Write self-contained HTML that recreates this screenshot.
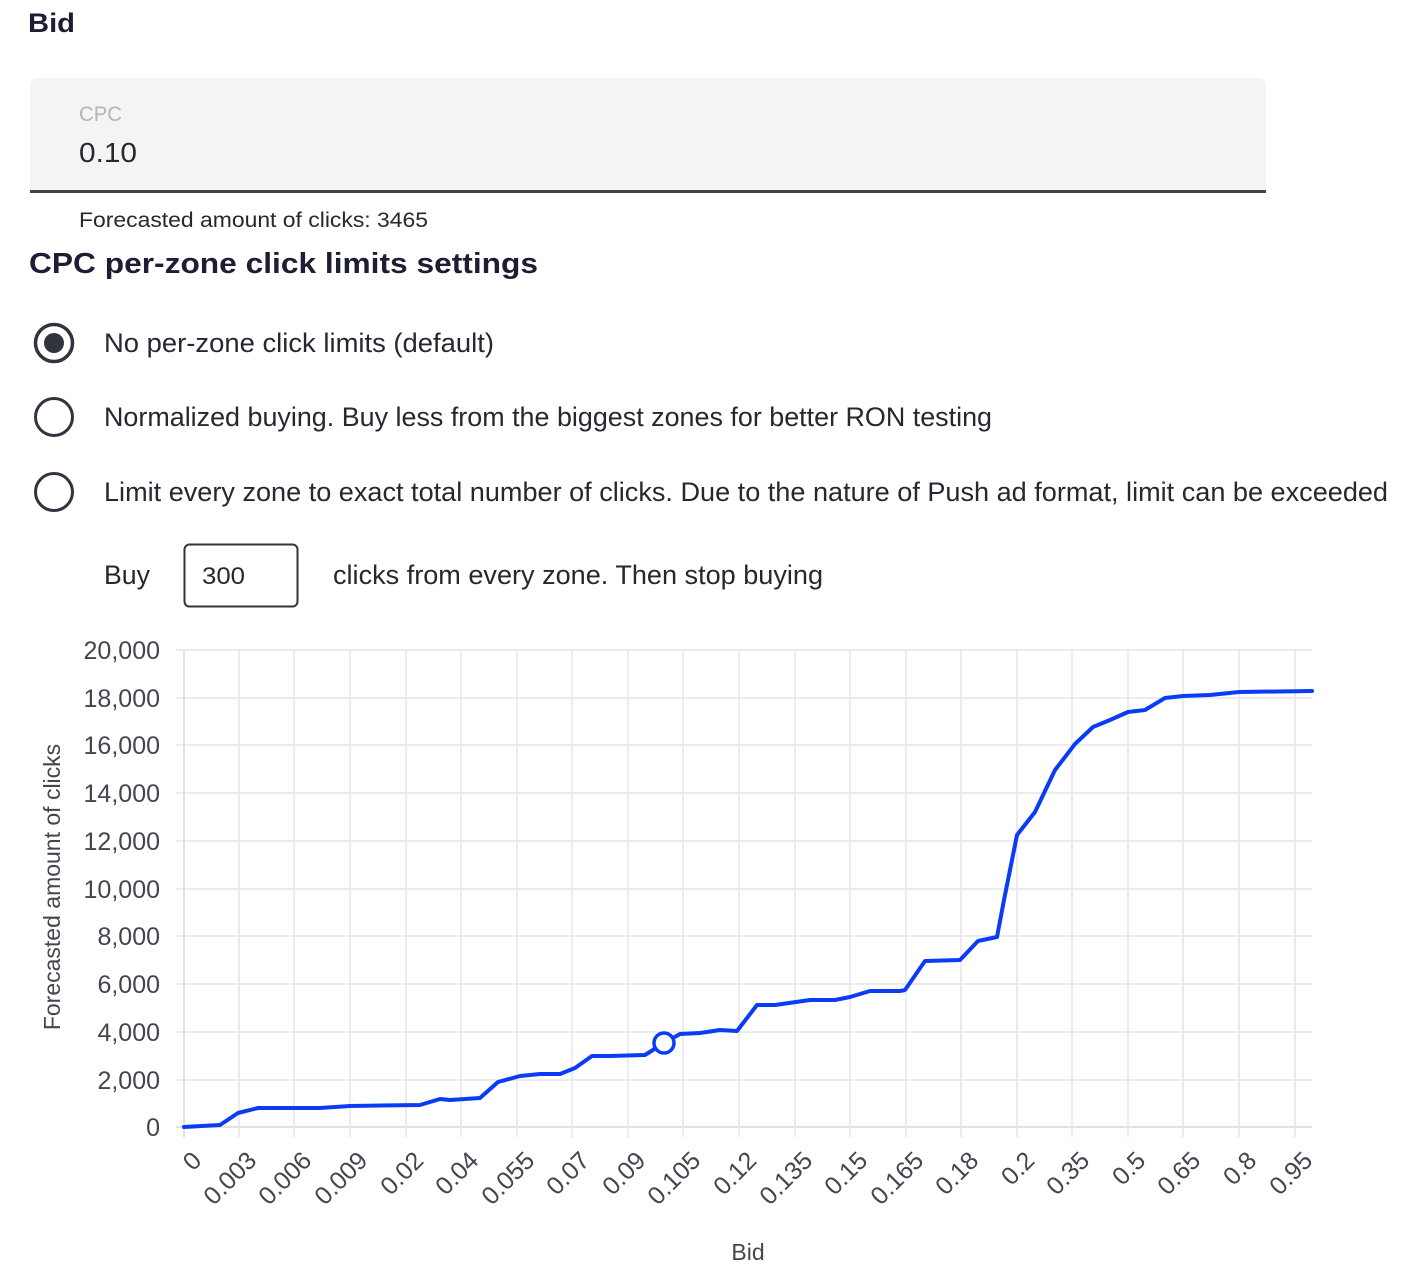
<!DOCTYPE html>
<html><head><meta charset="utf-8"><style>
html,body{margin:0;padding:0;background:#fff;}
svg{display:block;font-family:"Liberation Sans",sans-serif;}
</style></head><body>
<svg width="1420" height="1276" viewBox="0 0 1420 1276" xmlns="http://www.w3.org/2000/svg">
<text x="28" y="32" font-size="27" font-weight="bold" fill="#1d1e33" textLength="47" lengthAdjust="spacingAndGlyphs">Bid</text>
<path d="M38 78 H1258 Q1266 78 1266 86 V192 H30 V86 Q30 78 38 78 Z" fill="#f4f4f5"/>
<rect x="30" y="190" width="1236" height="3" fill="#41434f"/>
<text x="79" y="121" font-size="21" fill="#b4b5ba" textLength="43" lengthAdjust="spacingAndGlyphs">CPC</text>
<text x="79" y="162" font-size="28" fill="#262730" textLength="58" lengthAdjust="spacingAndGlyphs">0.10</text>
<text x="79" y="227" font-size="21" fill="#262730" textLength="349" lengthAdjust="spacingAndGlyphs">Forecasted amount of clicks: 3465</text>
<text x="29" y="273" font-size="29" font-weight="bold" fill="#1d1e33" textLength="509" lengthAdjust="spacingAndGlyphs">CPC per-zone click limits settings</text>
<circle cx="54" cy="343" r="18.5" fill="none" stroke="#31333f" stroke-width="3.5"/>
<circle cx="54" cy="343" r="10" fill="#31333f"/>
<circle cx="54" cy="417" r="18.5" fill="none" stroke="#31333f" stroke-width="3"/>
<circle cx="54" cy="492" r="18.5" fill="none" stroke="#31333f" stroke-width="3"/>
<g font-size="27" fill="#262730">
<text x="104" y="352" textLength="390" lengthAdjust="spacingAndGlyphs">No per-zone click limits (default)</text>
<text x="104" y="426" textLength="888" lengthAdjust="spacingAndGlyphs">Normalized buying. Buy less from the biggest zones for better RON testing</text>
<text x="104" y="501" textLength="1284" lengthAdjust="spacingAndGlyphs">Limit every zone to exact total number of clicks. Due to the nature of Push ad format, limit can be exceeded</text>
<text x="104" y="584" textLength="46" lengthAdjust="spacingAndGlyphs">Buy</text>
<text x="333" y="584" textLength="490" lengthAdjust="spacingAndGlyphs">clicks from every zone. Then stop buying</text>
</g>
<rect x="184.5" y="544.5" width="113" height="62" rx="5" fill="#fff" stroke="#31333f" stroke-width="2"/>
<text x="202" y="584" font-size="24" fill="#262730" textLength="43" lengthAdjust="spacingAndGlyphs">300</text>

<g stroke="#e6e6e9" stroke-width="1.5">
<line x1="176" y1="650" x2="1312" y2="650"/>
<line x1="176" y1="698" x2="1312" y2="698"/>
<line x1="176" y1="745" x2="1312" y2="745"/>
<line x1="176" y1="793" x2="1312" y2="793"/>
<line x1="176" y1="841" x2="1312" y2="841"/>
<line x1="176" y1="889" x2="1312" y2="889"/>
<line x1="176" y1="936" x2="1312" y2="936"/>
<line x1="176" y1="984" x2="1312" y2="984"/>
<line x1="176" y1="1032" x2="1312" y2="1032"/>
<line x1="176" y1="1080" x2="1312" y2="1080"/>
<line x1="176" y1="1127" x2="1312" y2="1127" stroke="#d8d8dc"/>
</g>
<g stroke="#e6e6e9" stroke-width="1.5">
<line x1="184" y1="650" x2="184" y2="1137" stroke="#d8d8dc"/>
<line x1="239" y1="650" x2="239" y2="1137"/><line x1="294" y1="650" x2="294" y2="1137"/>
<line x1="350" y1="650" x2="350" y2="1137"/><line x1="406" y1="650" x2="406" y2="1137"/>
<line x1="461" y1="650" x2="461" y2="1137"/><line x1="517" y1="650" x2="517" y2="1137"/>
<line x1="572" y1="650" x2="572" y2="1137"/><line x1="628" y1="650" x2="628" y2="1137"/>
<line x1="683" y1="650" x2="683" y2="1137"/><line x1="739" y1="650" x2="739" y2="1137"/>
<line x1="795" y1="650" x2="795" y2="1137"/><line x1="850" y1="650" x2="850" y2="1137"/>
<line x1="906" y1="650" x2="906" y2="1137"/><line x1="961" y1="650" x2="961" y2="1137"/>
<line x1="1017" y1="650" x2="1017" y2="1137"/><line x1="1072" y1="650" x2="1072" y2="1137"/>
<line x1="1128" y1="650" x2="1128" y2="1137"/><line x1="1183" y1="650" x2="1183" y2="1137"/>
<line x1="1239" y1="650" x2="1239" y2="1137"/><line x1="1295" y1="650" x2="1295" y2="1137"/>
</g>
<g font-size="25" fill="#44454f" text-anchor="end">
<text x="160" y="659">20,000</text><text x="160" y="707">18,000</text><text x="160" y="754">16,000</text>
<text x="160" y="802">14,000</text><text x="160" y="850">12,000</text><text x="160" y="898">10,000</text>
<text x="160" y="945">8,000</text><text x="160" y="993">6,000</text><text x="160" y="1041">4,000</text>
<text x="160" y="1089">2,000</text><text x="160" y="1136">0</text>
</g>
<text transform="translate(60,887) rotate(-90)" font-size="23" fill="#44454f" text-anchor="middle">Forecasted amount of clicks</text>
<g font-size="25" fill="#44454f" text-anchor="end">
<text transform="translate(203,1162) rotate(-45)">0</text>
<text transform="translate(258,1162) rotate(-45)">0.003</text>
<text transform="translate(313,1162) rotate(-45)">0.006</text>
<text transform="translate(369,1162) rotate(-45)">0.009</text>
<text transform="translate(425,1162) rotate(-45)">0.02</text>
<text transform="translate(480,1162) rotate(-45)">0.04</text>
<text transform="translate(536,1162) rotate(-45)">0.055</text>
<text transform="translate(591,1162) rotate(-45)">0.07</text>
<text transform="translate(647,1162) rotate(-45)">0.09</text>
<text transform="translate(702,1162) rotate(-45)">0.105</text>
<text transform="translate(758,1162) rotate(-45)">0.12</text>
<text transform="translate(814,1162) rotate(-45)">0.135</text>
<text transform="translate(869,1162) rotate(-45)">0.15</text>
<text transform="translate(925,1162) rotate(-45)">0.165</text>
<text transform="translate(980,1162) rotate(-45)">0.18</text>
<text transform="translate(1036,1162) rotate(-45)">0.2</text>
<text transform="translate(1091,1162) rotate(-45)">0.35</text>
<text transform="translate(1147,1162) rotate(-45)">0.5</text>
<text transform="translate(1202,1162) rotate(-45)">0.65</text>
<text transform="translate(1258,1162) rotate(-45)">0.8</text>
<text transform="translate(1314,1162) rotate(-45)">0.95</text>
</g>
<text x="748" y="1260" font-size="23" fill="#44454f" text-anchor="middle">Bid</text>
<polyline fill="none" stroke="#0a3cf5" stroke-width="4" stroke-linejoin="round" stroke-linecap="round"
points="184,1127 220,1125 238,1113 258,1108 320,1108 350,1106 420,1105 440,1099 450,1100 480,1098 498,1082 520,1076 540,1074 560,1074 575,1068 592,1056 610,1056 645,1055 664,1043 680,1034 700,1033 720,1030 737,1031 757,1005 775,1005 810,1000 835,1000 850,997 870,991 900,991 905,990 925,961 960,960 978,941 997,937 1004,900 1017,835 1035,812 1055,770 1075,744 1093,727 1110,720 1128,712 1145,710 1165,698 1183,696 1210,695 1239,692 1312,691"/>
<circle cx="664" cy="1043" r="10" fill="#fff" stroke="#0a3cf5" stroke-width="3.5"/>
</svg>
</body></html>
